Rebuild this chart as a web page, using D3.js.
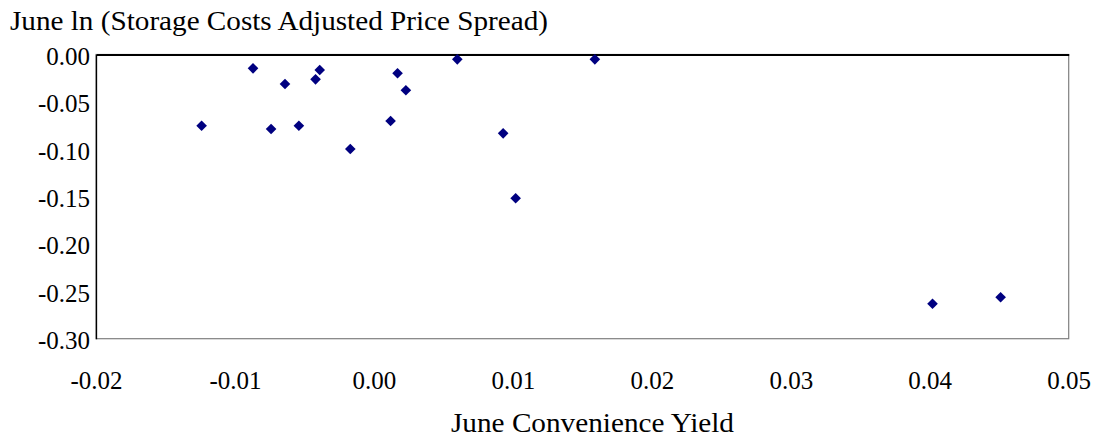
<!DOCTYPE html>
<html>
<head>
<meta charset="utf-8">
<script src="https://cdn.jsdelivr.net/npm/d3@7"></script>
<style>
  html, body { margin: 0; padding: 0; background: #fff; }
  svg { display: block; }
  text { font-family: "Liberation Serif", "Times New Roman", serif; fill: #000; }
</style>
</head>
<body>
<svg id="chart" width="1104" height="439"></svg>
<script>
// ---- data ----
const convenienceYield = [-0.0124, -0.0087, -0.0074, -0.0064, -0.0054, -0.0042, -0.0039, -0.0017,
  0.0012, 0.0017, 0.0023, 0.0060, 0.0093, 0.0102, 0.0159, 0.0402, 0.0451];
const priceSpread = [-0.0752, -0.0146, -0.0786, -0.0311, -0.0752, -0.0262, -0.0164, -0.0998,
  -0.0702, -0.0198, -0.0378, -0.0051, -0.0832, -0.1518, -0.0051, -0.2631, -0.2563];
const xTicks = [-0.02, -0.01, 0.00, 0.01, 0.02, 0.03, 0.04, 0.05];
const yTicks = [0.00, -0.05, -0.10, -0.15, -0.20, -0.25, -0.30];
const yTitle = "June ln (Storage Costs Adjusted Price Spread)";
const xTitle = "June Convenience Yield";

// ---- layout ----
const plotL = 96, plotR = 1068.7, plotT = 54.5, plotB = 338.7;
const svg = d3.select("#chart");
const x = d3.scaleLinear().domain([-0.02, 0.05]).range([plotL, plotR]);
const y = d3.scaleLinear().domain([-0.30, 0.00]).range([plotB, plotT]);
const fmt = d => (d < 0 ? "-" : "") + Math.abs(d).toFixed(2);

// plot area frame (grey)
svg.append("rect")
  .attr("x", plotL).attr("y", plotT)
  .attr("width", plotR - plotL).attr("height", plotB - plotT)
  .attr("fill", "none").attr("stroke", "#7f7f7f").attr("stroke-width", 1.2);

// x axis (labels placed low, axis line crosses at y = 0)
const xAxis = svg.append("g")
  .attr("transform", `translate(0,${plotB})`)
  .call(d3.axisBottom(x).tickValues(xTicks).tickSize(0).tickFormat(fmt));
xAxis.select(".domain").remove();
xAxis.selectAll("text")
  .attr("y", 50).attr("dy", 0)
  .attr("font-size", 25)
  .attr("font-family", "Liberation Serif");

// horizontal axis line at y = 0 (top)
const xLine = svg.append("g")
  .attr("transform", `translate(0,${y(0)})`)
  .call(d3.axisTop(x).tickValues([]).tickSize(0));
xLine.select(".domain").attr("stroke", "#000").attr("stroke-width", 1.8);

// y axis
const yAxis = svg.append("g")
  .attr("transform", `translate(${plotL},0)`)
  .call(d3.axisLeft(y).tickValues(yTicks).tickSize(0).tickPadding(6).tickFormat(fmt));
yAxis.select(".domain").attr("stroke", "#000").attr("stroke-width", 1.3);
yAxis.selectAll("text")
  .attr("dy", 0).attr("y", 10)
  .attr("font-size", 25)
  .attr("font-family", "Liberation Serif");

// points (navy diamonds)
const diamond = d3.symbol().type(d3.symbolDiamond2).size(72);
svg.append("g").selectAll("path")
  .data(convenienceYield.map((v, i) => [v, priceSpread[i]]))
  .join("path")
  .attr("d", diamond)
  .attr("transform", d => `translate(${x(d[0])},${y(d[1])})`)
  .attr("fill", "#000080");

// titles
svg.append("text")
  .attr("x", 10).attr("y", 30)
  .attr("font-size", 28)
  .attr("textLength", 538).attr("lengthAdjust", "spacingAndGlyphs")
  .text(yTitle);
svg.append("text")
  .attr("x", 451).attr("y", 431.5)
  .attr("font-size", 28)
  .attr("textLength", 283).attr("lengthAdjust", "spacingAndGlyphs")
  .text(xTitle);
</script>
</body>
</html>
